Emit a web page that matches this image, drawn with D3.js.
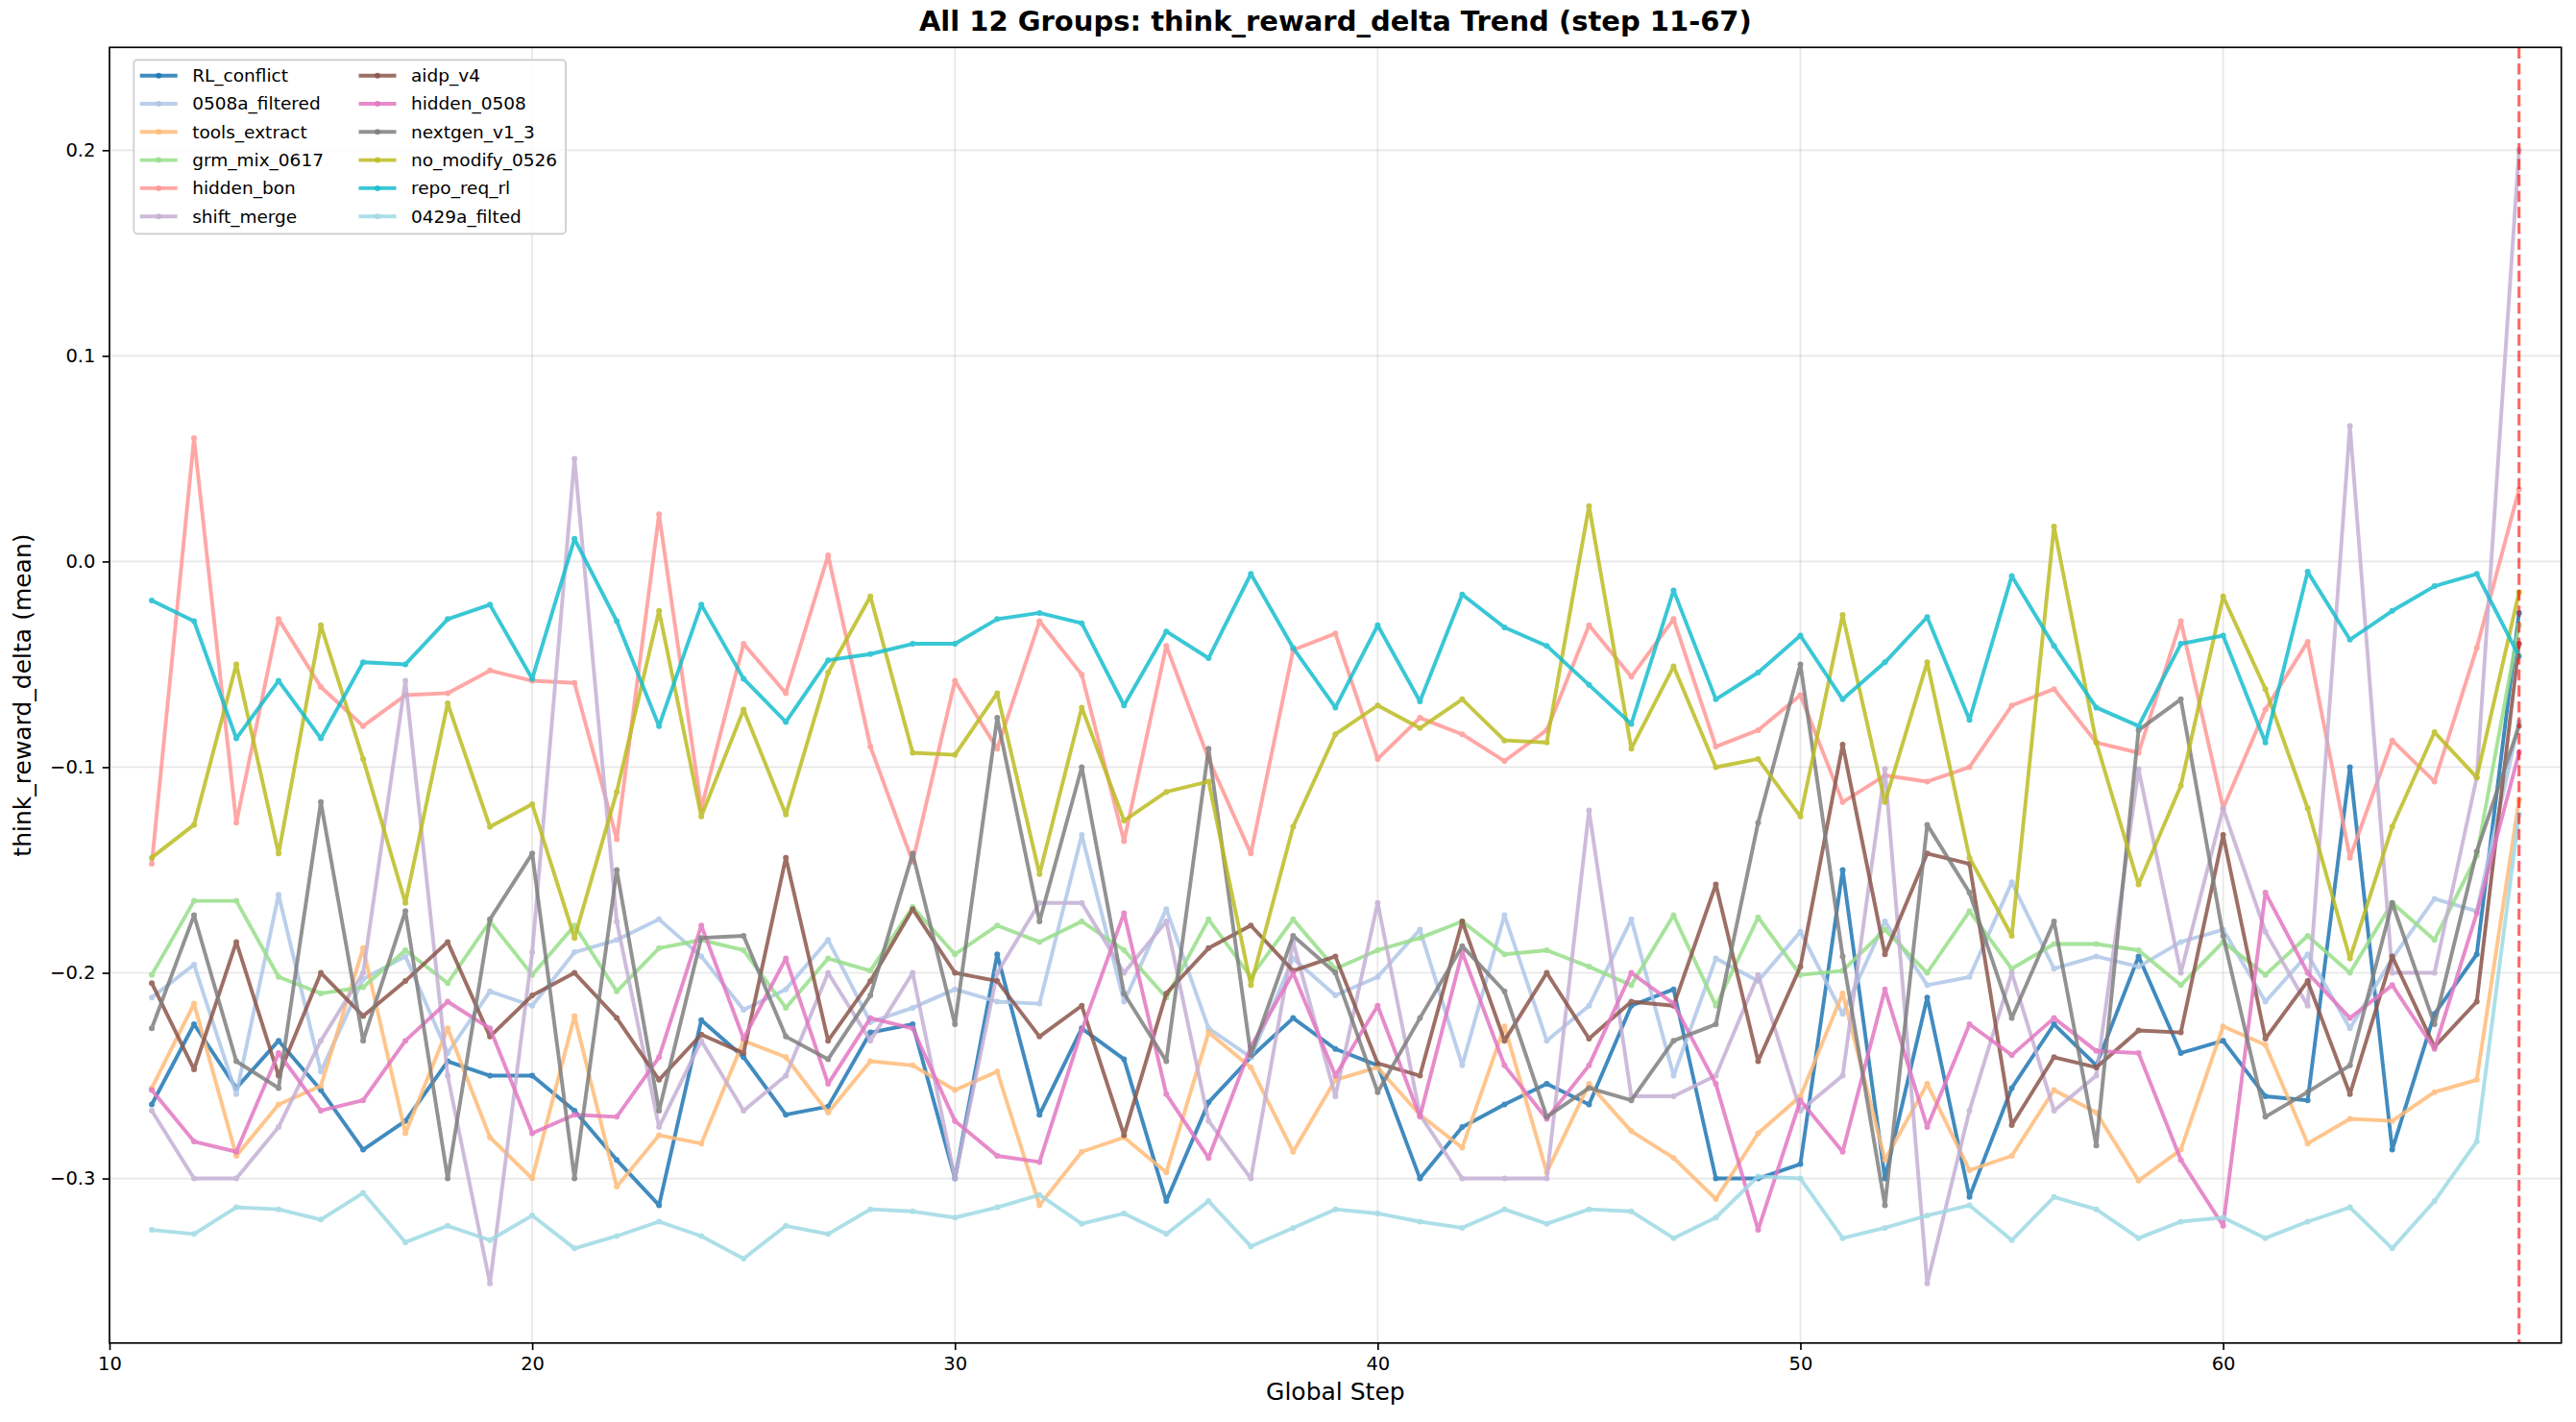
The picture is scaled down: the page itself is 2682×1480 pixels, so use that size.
<!DOCTYPE html>
<meta charset="utf-8">
<head>
  <title>All 12 Groups: think_reward_delta Trend</title>
</head>

<style>
body {
  margin: 0;
  background: #fff;
}
text {
  font-family: "DejaVu Sans", sans-serif;
  fill: #000;
}
.grid line {
  stroke: #b0b0b0;
  stroke-opacity: 0.3;
  stroke-width: 1.7;
}
.axis line {
  stroke: #000;
  stroke-width: 1.67;
}
.axis text {
  font-size: 19.5px;
}
.series path {
  fill: none;
  stroke-width: 3.9;
  stroke-linejoin: round;
  stroke-linecap: round;
}
.legend text {
  font-size: 18.5px;
}
</style>

<body>
  <svg width="2682" height="1480"></svg>

  <script src="https://d3js.org/d3.v7.min.js"></script>
  <script>
var steps = [11, 12, 13, 14, 15, 16, 17, 18, 19, 20,
             21, 22, 23, 24, 25, 26, 27, 28, 29, 30,
             31, 32, 33, 34, 35, 36, 37, 38, 39, 40,
             41, 42, 43, 44, 45, 46, 47, 48, 49, 50,
             51, 52, 53, 54, 55, 56, 57, 58, 59, 60,
             61, 62, 63, 64, 65, 66, 67];

var RL_conflict = [-0.264, -0.225, -0.256, -0.233, -0.257, -0.286, -0.272, -0.243, -0.250, -0.250,
  -0.267, -0.291, -0.313, -0.223, -0.241, -0.269, -0.265, -0.229, -0.225, -0.300,
  -0.191, -0.269, -0.227, -0.242, -0.311, -0.263, -0.241, -0.222, -0.237, -0.245,
  -0.300, -0.275, -0.264, -0.254, -0.264, -0.216, -0.208, -0.300, -0.300, -0.293,
  -0.150, -0.300, -0.212, -0.309, -0.256, -0.225, -0.245, -0.192, -0.239, -0.233,
  -0.260, -0.262, -0.100, -0.286, -0.220, -0.191, -0.025];

var filtered_0508a = [-0.212, -0.196, -0.259, -0.162, -0.248, -0.203, -0.192, -0.239, -0.209, -0.216,
  -0.190, -0.184, -0.174, -0.192, -0.218, -0.208, -0.184, -0.224, -0.217, -0.208,
  -0.214, -0.215, -0.133, -0.214, -0.169, -0.227, -0.241, -0.193, -0.211, -0.202,
  -0.179, -0.245, -0.172, -0.233, -0.216, -0.174, -0.250, -0.193, -0.204, -0.180,
  -0.220, -0.175, -0.206, -0.202, -0.156, -0.198, -0.192, -0.197, -0.185, -0.179,
  -0.214, -0.191, -0.227, -0.193, -0.164, -0.170, -0.078];

var tools_extract = [-0.256, -0.215, -0.289, -0.264, -0.255, -0.188, -0.278, -0.227, -0.280, -0.300,
  -0.221, -0.304, -0.279, -0.283, -0.233, -0.241, -0.268, -0.243, -0.245, -0.257,
  -0.248, -0.313, -0.287, -0.280, -0.297, -0.229, -0.246, -0.287, -0.252, -0.246,
  -0.269, -0.285, -0.226, -0.297, -0.254, -0.277, -0.290, -0.310, -0.278, -0.260,
  -0.210, -0.291, -0.254, -0.296, -0.289, -0.257, -0.268, -0.301, -0.286, -0.226,
  -0.235, -0.283, -0.271, -0.272, -0.258, -0.252, -0.116];

var grm_mix_0617 = [-0.201, -0.165, -0.165, -0.202, -0.210, -0.207, -0.189, -0.205, -0.175, -0.201,
  -0.177, -0.209, -0.188, -0.184, -0.189, -0.217, -0.193, -0.199, -0.168, -0.191,
  -0.177, -0.185, -0.175, -0.189, -0.212, -0.174, -0.202, -0.174, -0.198, -0.189,
  -0.183, -0.175, -0.191, -0.189, -0.197, -0.206, -0.172, -0.216, -0.173, -0.201,
  -0.199, -0.179, -0.200, -0.170, -0.198, -0.186, -0.186, -0.189, -0.206, -0.185,
  -0.201, -0.182, -0.200, -0.166, -0.184, -0.143, -0.031];

var hidden_bon = [-0.147, 0.060, -0.127, -0.028, -0.061, -0.080, -0.065, -0.064, -0.053, -0.058,
  -0.059, -0.135, 0.023, -0.120, -0.040, -0.064, 0.003, -0.090, -0.146, -0.058,
  -0.091, -0.029, -0.055, -0.136, -0.041, -0.096, -0.142, -0.043, -0.035, -0.096,
  -0.076, -0.084, -0.097, -0.082, -0.031, -0.056, -0.028, -0.090, -0.082, -0.065,
  -0.117, -0.104, -0.107, -0.100, -0.070, -0.062, -0.088, -0.093, -0.029, -0.120,
  -0.072, -0.039, -0.144, -0.087, -0.107, -0.042, 0.035];

var shift_merge = [-0.267, -0.300, -0.300, -0.275, -0.233, -0.200, -0.058, -0.250, -0.351, -0.190,
  0.050, -0.175, -0.275, -0.233, -0.267, -0.250, -0.200, -0.233, -0.200, -0.300,
  -0.200, -0.166, -0.166, -0.200, -0.175, -0.272, -0.300, -0.185, -0.260, -0.166,
  -0.269, -0.300, -0.300, -0.300, -0.121, -0.260, -0.260, -0.250, -0.201, -0.267,
  -0.250, -0.101, -0.351, -0.267, -0.200, -0.267, -0.250, -0.101, -0.200, -0.120,
  -0.180, -0.216, 0.066, -0.200, -0.200, -0.105, 0.200];

var aidp_v4 = [-0.205, -0.247, -0.185, -0.250, -0.200, -0.221, -0.204, -0.185, -0.231, -0.211,
  -0.200, -0.222, -0.252, -0.230, -0.239, -0.144, -0.233, -0.204, -0.169, -0.200,
  -0.204, -0.231, -0.216, -0.279, -0.210, -0.188, -0.177, -0.199, -0.192, -0.244,
  -0.250, -0.175, -0.233, -0.200, -0.232, -0.214, -0.216, -0.157, -0.243, -0.197,
  -0.089, -0.191, -0.142, -0.147, -0.274, -0.241, -0.246, -0.228, -0.229, -0.133,
  -0.232, -0.204, -0.259, -0.192, -0.236, -0.214, -0.040];

var hidden_0508 = [-0.257, -0.282, -0.287, -0.239, -0.267, -0.262, -0.233, -0.214, -0.227, -0.278,
  -0.269, -0.270, -0.241, -0.177, -0.232, -0.193, -0.254, -0.222, -0.227, -0.272,
  -0.289, -0.292, -0.228, -0.171, -0.259, -0.290, -0.236, -0.200, -0.250, -0.216,
  -0.270, -0.190, -0.245, -0.271, -0.245, -0.200, -0.215, -0.254, -0.325, -0.262,
  -0.287, -0.208, -0.275, -0.225, -0.240, -0.222, -0.238, -0.239, -0.291, -0.323,
  -0.161, -0.200, -0.222, -0.206, -0.237, -0.171, -0.093];

var nextgen_v1_3 = [-0.227, -0.172, -0.243, -0.256, -0.117, -0.233, -0.170, -0.300, -0.174, -0.142,
  -0.300, -0.150, -0.267, -0.183, -0.182, -0.231, -0.242, -0.211, -0.142, -0.225,
  -0.076, -0.175, -0.100, -0.210, -0.243, -0.091, -0.240, -0.182, -0.200, -0.258,
  -0.222, -0.187, -0.209, -0.270, -0.256, -0.262, -0.233, -0.225, -0.127, -0.050,
  -0.192, -0.313, -0.128, -0.161, -0.222, -0.175, -0.284, -0.082, -0.067, -0.182,
  -0.270, -0.258, -0.245, -0.166, -0.225, -0.141, -0.080];

var no_modify_0526 = [-0.144, -0.128, -0.050, -0.142, -0.031, -0.096, -0.166, -0.069, -0.129, -0.118,
  -0.183, -0.112, -0.024, -0.124, -0.072, -0.123, -0.054, -0.017, -0.093, -0.094,
  -0.064, -0.152, -0.071, -0.126, -0.112, -0.107, -0.206, -0.129, -0.084, -0.070,
  -0.081, -0.067, -0.087, -0.088, 0.027, -0.091, -0.051, -0.100, -0.096, -0.124,
  -0.026, -0.117, -0.049, -0.144, -0.182, 0.017, -0.088, -0.157, -0.109, -0.017,
  -0.062, -0.120, -0.193, -0.129, -0.083, -0.105, -0.015];

var repo_req_rl = [-0.019, -0.029, -0.086, -0.058, -0.086, -0.049, -0.050, -0.028, -0.021, -0.057,
  0.011, -0.029, -0.080, -0.021, -0.057, -0.078, -0.048, -0.045, -0.040, -0.040,
  -0.028, -0.025, -0.030, -0.070, -0.034, -0.047, -0.006, -0.042, -0.071, -0.031,
  -0.068, -0.016, -0.032, -0.041, -0.060, -0.079, -0.014, -0.067, -0.054, -0.036,
  -0.067, -0.049, -0.027, -0.077, -0.007, -0.041, -0.071, -0.080, -0.040, -0.036,
  -0.088, -0.005, -0.038, -0.024, -0.012, -0.006, -0.046];

var filted_0429a = [-0.325, -0.327, -0.314, -0.315, -0.320, -0.307, -0.331, -0.323, -0.330, -0.318,
  -0.334, -0.328, -0.321, -0.328, -0.339, -0.323, -0.327, -0.315, -0.316, -0.319,
  -0.314, -0.308, -0.322, -0.317, -0.327, -0.311, -0.333, -0.324, -0.315, -0.317,
  -0.321, -0.324, -0.315, -0.322, -0.315, -0.316, -0.329, -0.319, -0.299, -0.300,
  -0.329, -0.324, -0.318, -0.313, -0.330, -0.309, -0.315, -0.329, -0.321, -0.319,
  -0.329, -0.321, -0.314, -0.334, -0.311, -0.282, -0.123];

var seriesNames = ["RL_conflict", "0508a_filtered", "tools_extract", "grm_mix_0617",
  "hidden_bon", "shift_merge", "aidp_v4", "hidden_0508", "nextgen_v1_3",
  "no_modify_0526", "repo_req_rl", "0429a_filted"];

var seriesValues = [RL_conflict, filtered_0508a, tools_extract, grm_mix_0617,
  hidden_bon, shift_merge, aidp_v4, hidden_0508, nextgen_v1_3,
  no_modify_0526, repo_req_rl, filted_0429a];

var seriesColors = ["#1f77b4", "#aec7e8", "#ffbb78", "#98df8a", "#ff9896", "#c5b0d5",
  "#8c564b", "#e377c2", "#7f7f7f", "#bcbd22", "#17becf", "#9edae5"];

var xTicks = [10, 20, 30, 40, 50, 60];
var yTicks = [-0.3, -0.2, -0.1, 0.0, 0.1, 0.2];
var markerStep = 67;

// plot frame in pixels (note: "top" is a reserved window property, so prefix)
var plotLeft = 114, plotRight = 2666.7, plotTop = 49.3, plotBottom = 1397.8;

var x = d3.scaleLinear().domain([10, 68]).range([plotLeft, plotRight]);
var y = d3.scaleLinear().domain([-0.38, 0.25]).range([plotBottom, plotTop]);

var svg = d3.select('svg');

svg.append('defs').append('clipPath')
  .attr('id', 'plot-clip')
  .append('rect')
  .attr('x', plotLeft).attr('y', plotTop)
  .attr('width', plotRight - plotLeft).attr('height', plotBottom - plotTop);

// grid
var grid = svg.append('g').attr('class', 'grid');
grid.selectAll('line.gx')
  .data(xTicks)
  .enter()
  .append('line')
  .attr('class', 'gx')
  .attr('x1', function(d) { return x(d); })
  .attr('x2', function(d) { return x(d); })
  .attr('y1', plotTop)
  .attr('y2', plotBottom);
grid.selectAll('line.gy')
  .data(yTicks)
  .enter()
  .append('line')
  .attr('class', 'gy')
  .attr('x1', plotLeft)
  .attr('x2', plotRight)
  .attr('y1', function(d) { return y(d); })
  .attr('y2', function(d) { return y(d); });

// series
var line = d3.line()
  .x(function(d) { return x(d[0]); })
  .y(function(d) { return y(d[1]); });

var plot = svg.append('g').attr('clip-path', 'url(#plot-clip)');

seriesNames.forEach(function(name, i) {
  var pts = steps.map(function(s, j) { return [s, seriesValues[i][j]]; });
  var g = plot.append('g')
    .attr('class', 'series')
    .attr('opacity', 0.85);
  g.append('path')
    .datum(pts)
    .attr('stroke', seriesColors[i])
    .attr('d', line);
  g.selectAll('circle')
    .data(pts)
    .enter()
    .append('circle')
    .attr('cx', function(d) { return x(d[0]); })
    .attr('cy', function(d) { return y(d[1]); })
    .attr('r', 3)
    .attr('fill', seriesColors[i]);
});

// vertical marker
plot.append('line')
  .attr('x1', x(markerStep))
  .attr('x2', x(markerStep))
  .attr('y1', plotTop)
  .attr('y2', plotBottom)
  .attr('stroke', 'red')
  .attr('stroke-opacity', 0.6)
  .attr('stroke-width', 3.1)
  .attr('stroke-dasharray', '11.6,5');

// axes
var xAxis = svg.append('g')
  .attr('class', 'axis')
  .attr('transform', 'translate(0,' + plotBottom + ')')
  .call(d3.axisBottom(x).tickValues(xTicks).tickSize(7.3).tickPadding(7.3).tickFormat(d3.format('d')));
xAxis.select('.domain').remove();

var yAxis = svg.append('g')
  .attr('class', 'axis')
  .attr('transform', 'translate(' + plotLeft + ',0)')
  .call(d3.axisLeft(y).tickValues(yTicks).tickSize(7.3).tickPadding(7.3).tickFormat(d3.format('.1f')));
yAxis.select('.domain').remove();

svg.selectAll('.axis text')
  .attr('font-family', '"DejaVu Sans", sans-serif')
  .attr('font-size', null);

svg.append('rect')
  .attr('x', plotLeft).attr('y', plotTop)
  .attr('width', plotRight - plotLeft).attr('height', plotBottom - plotTop)
  .attr('fill', 'none')
  .attr('stroke', '#000')
  .attr('stroke-width', 1.67);

// labels
svg.append('text')
  .attr('x', (plotLeft + plotRight) / 2)
  .attr('y', 32)
  .attr('text-anchor', 'middle')
  .attr('font-size', '29px')
  .attr('font-weight', 'bold')
  .text('All 12 Groups: think_reward_delta Trend (step 11-67)');

svg.append('text')
  .attr('x', (plotLeft + plotRight) / 2)
  .attr('y', 1457)
  .attr('text-anchor', 'middle')
  .attr('font-size', '25px')
  .text('Global Step');

svg.append('text')
  .attr('transform', 'translate(32,' + (plotTop + plotBottom) / 2 + ') rotate(-90)')
  .attr('text-anchor', 'middle')
  .attr('font-size', '25px')
  .text('think_reward_delta (mean)');

// legend
var legend = svg.append('g').attr('class', 'legend');
legend.append('rect')
  .attr('x', 139.3).attr('y', 62.3)
  .attr('width', 449.7).attr('height', 181)
  .attr('rx', 3.7)
  .attr('fill', '#fff')
  .attr('fill-opacity', 0.8)
  .attr('stroke', '#cccccc')
  .attr('stroke-width', 1.7);

var colX = [145.7, 373.5];
var items = legend.selectAll('g.item')
  .data(seriesNames)
  .enter()
  .append('g')
  .attr('class', 'item')
  .attr('transform', function(d, i) {
    return 'translate(' + colX[Math.floor(i / 6)] + ',' + (78.7 + (i % 6) * 29.3) + ')';
  });
items.append('line')
  .attr('x1', 0).attr('x2', 39)
  .attr('stroke', function(d, i) { return seriesColors[i]; })
  .attr('stroke-width', 3.9)
  .attr('opacity', 0.85);
items.append('circle')
  .attr('cx', 19.5)
  .attr('r', 3)
  .attr('fill', function(d, i) { return seriesColors[i]; })
  .attr('opacity', 0.85);
items.append('text')
  .attr('x', 54.5)
  .attr('dy', '0.35em')
  .text(function(d) { return d; });
  </script>
</body>
</html>
